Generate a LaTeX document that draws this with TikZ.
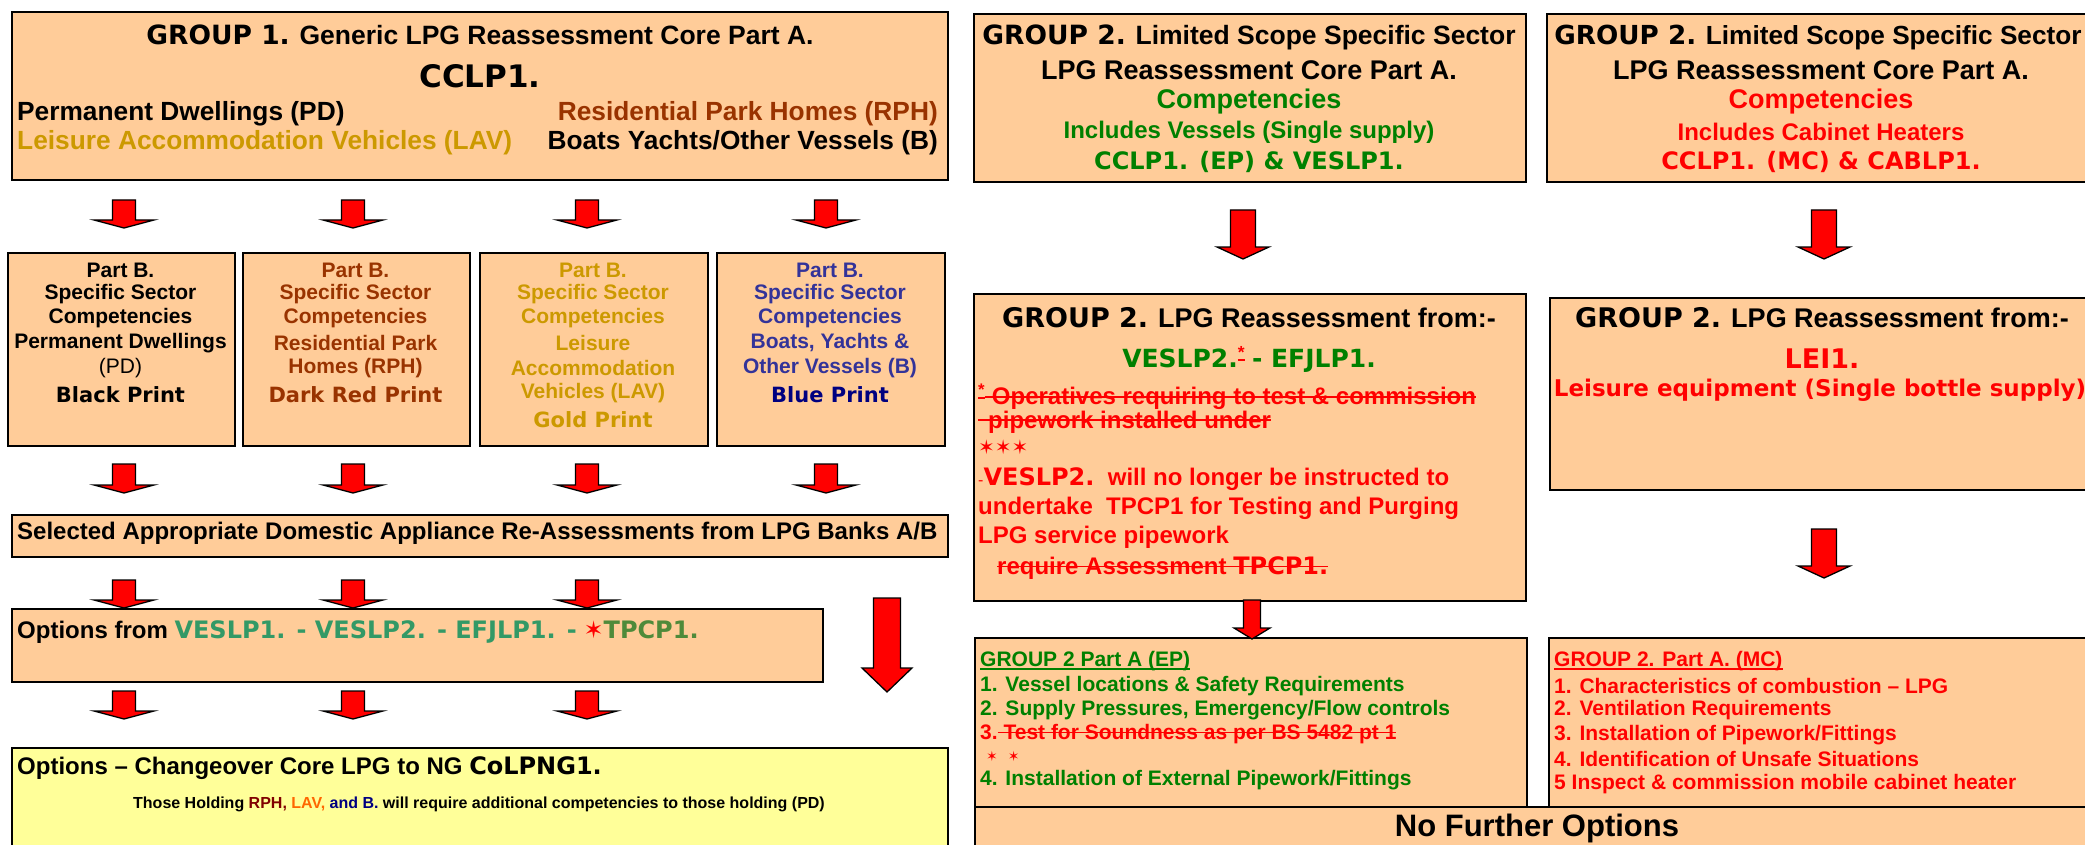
\documentclass[tikz,border=0pt]{standalone}
\usepackage{fontspec}
\setmainfont{Liberation Sans}
\newfontfamily\blk{DejaVu Sans}
\newfontfamily\djv{DejaVu Sans}
\definecolor{peach}{HTML}{FFCC99}
\definecolor{lyellow}{HTML}{FFFF99}
\definecolor{brownr}{HTML}{993300}
\definecolor{gold}{HTML}{CC9900}
\definecolor{pblue}{HTML}{333399}
\definecolor{navyb}{HTML}{000080}
\definecolor{ggreen}{HTML}{008000}
\definecolor{sgreen}{HTML}{339966}
\definecolor{ogreen}{HTML}{4F8A3A}
\definecolor{maroonr}{HTML}{800000}
\definecolor{orng}{HTML}{FF6600}
\newcommand\sz[1]{\fontsize{#1}{#1}\selectfont}
\newcommand\bk[1]{{\blk\bfseries #1}}
\newcommand\stx{{\djv ✶}}
\newcommand\strk[1]{\setbox0\hbox{#1}\rlap{\rule[0.3em]{\wd0}{1.6pt}}\box0}
\newcommand\uln[1]{\setbox0\hbox{#1}\rlap{\rule[-0.17em]{\wd0}{1.6pt}}\box0}
% block arrow: cx, top, tip, shaft half, head half, head start
\newcommand\barrow[6]{\draw[arr] (#1-#4,#2) -- (#1+#4,#2) -- (#1+#4,#6) -- (#1+#5,#6) -- (#1,#3) -- (#1-#5,#6) -- (#1-#4,#6) -- cycle;}
\tikzset{
  box/.style={draw=black, line width=1.8pt, fill=peach, anchor=north west, inner sep=0pt},
  ybox/.style={box, fill=lyellow},
  arr/.style={fill=red, draw=black, line width=1.3pt, line join=miter},
  tx/.style={inner sep=0pt, font=\bfseries},
}
\begin{document}
\begin{tikzpicture}[x=1pt,y=-1pt]
\useasboundingbox (0,0) rectangle (2085,845);
\clip (0,0) rectangle (2085,845);
% ---------- boxes ----------
\node[box, minimum width=936, minimum height=168] (g1) at (11,11) {};
\node[box, minimum width=552, minimum height=168] (g2a) at (973,13) {};
\node[box, minimum width=550, minimum height=168] (g2b) at (1546,13) {};
\node[box, minimum width=227, minimum height=193] (pb1) at (7,252) {};
\node[box, minimum width=227, minimum height=193] (pb2) at (242,252) {};
\node[box, minimum width=228, minimum height=193] (pb3) at (479,252) {};
\node[box, minimum width=228, minimum height=193] (pb4) at (716,252) {};
\node[box, minimum width=936, minimum height=42] (sel) at (11,514) {};
\node[box, minimum width=811, minimum height=73] (opt) at (11,608) {};
\node[ybox, minimum width=936, minimum height=120] (yel) at (11,747) {};
\node[box, minimum width=552, minimum height=307] (ep2) at (973,293) {};
\node[box, minimum width=550, minimum height=192] (mc2) at (1549,297) {};
\node[box, minimum width=552, minimum height=169] (ep3) at (974,637) {};
\node[box, minimum width=550, minimum height=169] (mc3) at (1548,637) {};
\node[box, minimum width=1135, minimum height=60] (nfo) at (974,806) {};
% ---------- arrows ----------
\foreach \cx in {124,353,587,826} {
  \barrow{\cx}{200}{228}{11.5}{30}{220}
  \barrow{\cx}{464}{493}{11.5}{30}{485}
}
\foreach \cx in {124,353,587} {
  \barrow{\cx}{580}{608}{11.5}{30}{600}
  \barrow{\cx}{691}{719}{11.5}{30}{711}
}
\barrow{887}{598}{692}{13.5}{25}{668}
\barrow{1243}{210}{259}{12.5}{26}{247}
\barrow{1824}{210}{259}{12.5}{26}{247}
\barrow{1252}{600}{639}{8.5}{18}{628}
\barrow{1824}{529}{578}{12.5}{26}{566}
% ---------- Group 1 ----------
\node[tx] (g1t) at (480,35) {\sz{26.5}\bk{GROUP 1.} Generic LPG Reassessment Core Part A.};
\node[tx] (g1c) at (480,76) {\sz{31}\bk{CCLP1.}};
\node[tx, anchor=west] (g1pd) at (17,114) {\sz{26.3}Permanent Dwellings (PD)};
\node[tx, anchor=east, text=brownr] (g1rph) at (938,114) {\sz{26.3}Residential Park Homes (RPH)};
\node[tx, anchor=west, text=gold] (g1lav) at (17,143) {\sz{26.3}Leisure Accommodation Vehicles (LAV)};
\node[tx, anchor=east] (g1b) at (938,143) {\sz{26.3}Boats Yachts/Other Vessels (B)};
% ---------- Group 2 top boxes ----------
\node[tx] (g2at1) at (1249,37) {\sz{26.5}\bk{GROUP 2.} Limited Scope Specific Sector};
\node[tx] (g2at2) at (1249,70) {\sz{27}LPG Reassessment Core Part A.};
\node[tx, text=ggreen] (g2at3) at (1249,102) {\sz{27}Competencies};
\node[tx, text=ggreen] (g2at4) at (1249,132) {\sz{24}Includes Vessels (Single supply)};
\node[tx, text=ggreen] (g2at5) at (1249,162) {\sz{24}\bk{CCLP1. (EP) \& VESLP1.}};
\node[tx] (g2bt1) at (1818,37) {\sz{26.2}\bk{GROUP 2.} Limited Scope Specific Sector};
\node[tx] (g2bt2) at (1821,70) {\sz{27}LPG Reassessment Core Part A.};
\node[tx, text=red] (g2bt3) at (1821,102) {\sz{27}Competencies};
\node[tx, text=red] (g2bt4) at (1821,132) {\sz{24}Includes Cabinet Heaters};
\node[tx, text=red] (g2bt5) at (1821,162) {\sz{24}\bk{CCLP1. (MC) \& CABLP1.}};
% ---------- Part B boxes ----------
\begin{scope}[every node/.style={tx}]
\node (pb1a) at (120.5,270) {\sz{21}Part B.};
\node (pb1b) at (120.5,294) {\sz{21}Specific Sector};
\node (pb1c) at (120.5,318) {\sz{21}Competencies};
\node (pb1d) at (120.5,343) {\sz{21}Permanent Dwellings};
\node (pb1e) at (120.5,368) {\sz{21}\mdseries (PD)};
\node (pb1f) at (120.5,395) {\sz{21}\bk{Black Print}};
\begin{scope}[every node/.append style={text=brownr}]
\node (pb2a) at (355.5,270) {\sz{21}Part B.};
\node (pb2b) at (355.5,294) {\sz{21}Specific Sector};
\node (pb2c) at (355.5,318) {\sz{21}Competencies};
\node (pb2d) at (355.5,343) {\sz{21}Residential Park};
\node (pb2e) at (355.5,368) {\sz{21}Homes (RPH)};
\node (pb2f) at (355.5,395) {\sz{21}\bk{Dark Red Print}};
\end{scope}
\begin{scope}[every node/.append style={text=gold}]
\node (pb3a) at (593,270) {\sz{21}Part B.};
\node (pb3b) at (593,294) {\sz{21}Specific Sector};
\node (pb3c) at (593,318) {\sz{21}Competencies};
\node (pb3d) at (593,343) {\sz{21}Leisure};
\node (pb3e) at (593,368) {\sz{21}Accommodation};
\node (pb3f) at (593,393) {\sz{21}Vehicles (LAV)};
\node (pb3g) at (593,420) {\sz{21}\bk{Gold Print}};
\end{scope}
\begin{scope}[every node/.append style={text=pblue}]
\node (pb4a) at (830,270) {\sz{21}Part B.};
\node (pb4b) at (830,294) {\sz{21}Specific Sector};
\node (pb4c) at (830,318) {\sz{21}Competencies};
\node (pb4d) at (830,343) {\sz{21}Boats, Yachts \&};
\node (pb4e) at (830,368) {\sz{21}Other Vessels (B)};
\node[text=navyb] (pb4f) at (830,395) {\sz{21}\bk{Blue Print}};
\end{scope}
\end{scope}
% ---------- Left lower rows ----------
\node[tx, anchor=west] (selt) at (17,533) {\sz{24}Selected Appropriate Domestic Appliance Re-Assessments from LPG Banks A/B};
\node[tx, anchor=west] (optt) at (17,632) {\sz{24}Options from \textcolor{sgreen}{\bk{VESLP1. - VESLP2. - EFJLP1. -}} \textcolor{red}{\stx}\textcolor{ogreen}{\bk{TPCP1.}}};
\node[tx, anchor=west] (yelt) at (17,768) {\sz{24}Options -- Changeover Core LPG to NG \bk{CoLPNG1.}};
\node[tx] (yelt2) at (479,804) {\sz{16}Those Holding \textcolor{maroonr}{RPH,} \textcolor{orng}{LAV,} \textcolor{navyb}{and B.} will require additional competencies to those holding (PD)};
% ---------- EP2 ----------
\node[tx] (ep2a) at (1249,318) {\sz{27}\bk{GROUP 2.} LPG Reassessment from:-};
\node[tx] (ep2b) at (1249,359) {\sz{25}\textcolor{ggreen}{\bk{VESLP2.}}\textcolor{red}{\textsuperscript{\uln{*}}} \textcolor{ggreen}{\bk{- EFJLP1.}}};
\begin{scope}[every node/.style={tx, anchor=west, text=red}]
\node (ep2c) at (978,397) {\sz{24}\textsuperscript{\uln{*}}\strk{ Operatives requiring to test \& commission}};
\node (ep2d) at (978,422) {\sz{24}\strk{\hspace*{10pt}pipework installed under}};
\node (ep2e) at (978,447) {\sz{20}\stx\stx\stx};
\node (ep2f) at (978,479) {\sz{24}{\mdseries\sz{16}-}\bk{VESLP2.}\ \ will no longer be instructed to};
\node (ep2g) at (978,508) {\sz{24}undertake\ \ TPCP1 for Testing and Purging};
\node (ep2h) at (978,537) {\sz{24}LPG service pipework};
\node (ep2i) at (997,568) {\sz{24}\strk{require Assessment \bk{TPCP1.}}};
\end{scope}
% ---------- MC2 ----------
\node[tx] (mc2a) at (1822,318) {\sz{27}\bk{GROUP 2.} LPG Reassessment from:-};
\node[tx, text=red] (mc2b) at (1822,359) {\sz{27}\bk{LEI1.}};
\node[tx, text=red] (mc2c) at (1820,390) {\sz{23}\bk{Leisure equipment (Single bottle supply)}};
% ---------- EP3 ----------
\begin{scope}[every node/.style={tx, anchor=west, text=ggreen}]
\node (ep3a) at (980,661) {\sz{21}\uln{GROUP 2 Part A (EP)}};
\node (ep3b) at (980,686) {\sz{21}1. Vessel locations \& Safety Requirements};
\node (ep3c) at (980,710) {\sz{21}2. Supply Pressures, Emergency/Flow controls};
\node[text=red] (ep3d) at (980,734) {\sz{21}3.\strk{ Test for Soundness as per BS 5482 pt 1}};
\node[text=red] (ep3e) at (986,756) {\sz{14}\stx\hspace{10pt}\stx};
\node (ep3f) at (980,780) {\sz{21}4. Installation of External Pipework/Fittings};
\end{scope}
% ---------- MC3 ----------
\begin{scope}[every node/.style={tx, anchor=west, text=red}]
\node (mc3a) at (1554,661) {\sz{21}\uln{GROUP 2. Part A. (MC)}};
\node (mc3b) at (1554,686) {\sz{21}1. Characteristics of combustion -- LPG};
\node (mc3c) at (1554,710) {\sz{21}2. Ventilation Requirements};
\node (mc3d) at (1554,735) {\sz{21}3. Installation of Pipework/Fittings};
\node (mc3e) at (1554,759) {\sz{21}4. Identification of Unsafe Situations};
\node (mc3f) at (1554,784) {\sz{21}5 Inspect \& commission mobile cabinet heater};
\end{scope}
\node[tx] (nfot) at (1537,828) {\sz{31}No Further Options};
\end{tikzpicture}
\end{document}
